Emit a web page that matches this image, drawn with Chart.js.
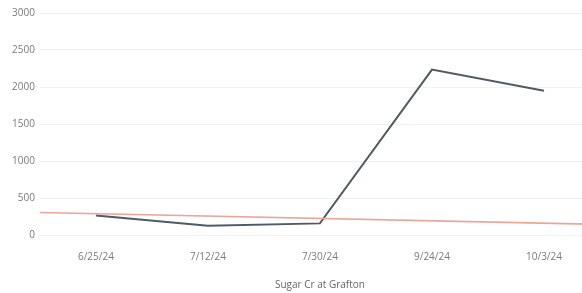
<!DOCTYPE html>
<html>
<head>
<meta charset="utf-8">
<script src="https://cdn.jsdelivr.net/npm/chart.js@4"></script>
<style>
html,body{margin:0;padding:0;background:#fff;overflow:hidden;}
#wrap{width:600px;height:293px;position:relative;}
</style>
</head>
<body>
<div id="wrap"><canvas id="c"></canvas></div>
<script>
const categories = ["6/25/24", "7/12/24", "7/30/24", "9/24/24", "10/3/24"];
const sugarCrValues = [265, 125, 157, 2235, 1950];
const referenceLine = [{x: 0, y: 305}, {x: 1, y: 143}];
const yTicks = [0, 500, 1000, 1500, 2000, 2500, 3000];
const xTitle = "Sugar Cr at Grafton";

new Chart(document.getElementById('c'), {
  type: 'line',
  data: {
    labels: categories,
    datasets: [
      {
        label: 'reference',
        data: referenceLine,
        xAxisID: 'x2',
        borderColor: '#e9a59a',
        borderWidth: 1.6,
        pointRadius: 0,
        tension: 0
      },
      {
        label: xTitle,
        data: sugarCrValues,
        xAxisID: 'x',
        borderColor: '#4f5a64',
        borderWidth: 2,
        pointRadius: 0,
        tension: 0
      }
    ]
  },
  options: {
    responsive: true,
    maintainAspectRatio: false,
    animation: false,
    layout: {padding: {top: 13, right: 0, left: 7, bottom: 2}},
    plugins: {legend: {display: false}, tooltip: {enabled: false}},
    scales: {
      x: {
        type: 'category',
        offset: true,
        grid: {display: false, drawTicks: false},
        border: {display: false},
        ticks: {color: '#7a7a7a', font: {family: 'Open Sans', size: 10}, padding: 16, maxRotation: 0},
        title: {display: true, text: xTitle, color: '#666', font: {family: 'Open Sans', size: 10}, padding: {top: 0, bottom: 0}}
      },
      x2: {
        type: 'linear',
        min: 0, max: 1,
        display: false
      },
      y: {
        min: 0, max: 3000,
        afterBuildTicks: (axis) => { axis.ticks = yTicks.map(v => ({value: v})); },
        grid: {color: '#f1f1f1', drawTicks: false},
        border: {display: false},
        ticks: {color: '#7a7a7a', font: {family: 'Open Sans', size: 10}, padding: 5, callback: (v) => String(v)}
      }
    }
  }
});
</script>
</body>
</html>
